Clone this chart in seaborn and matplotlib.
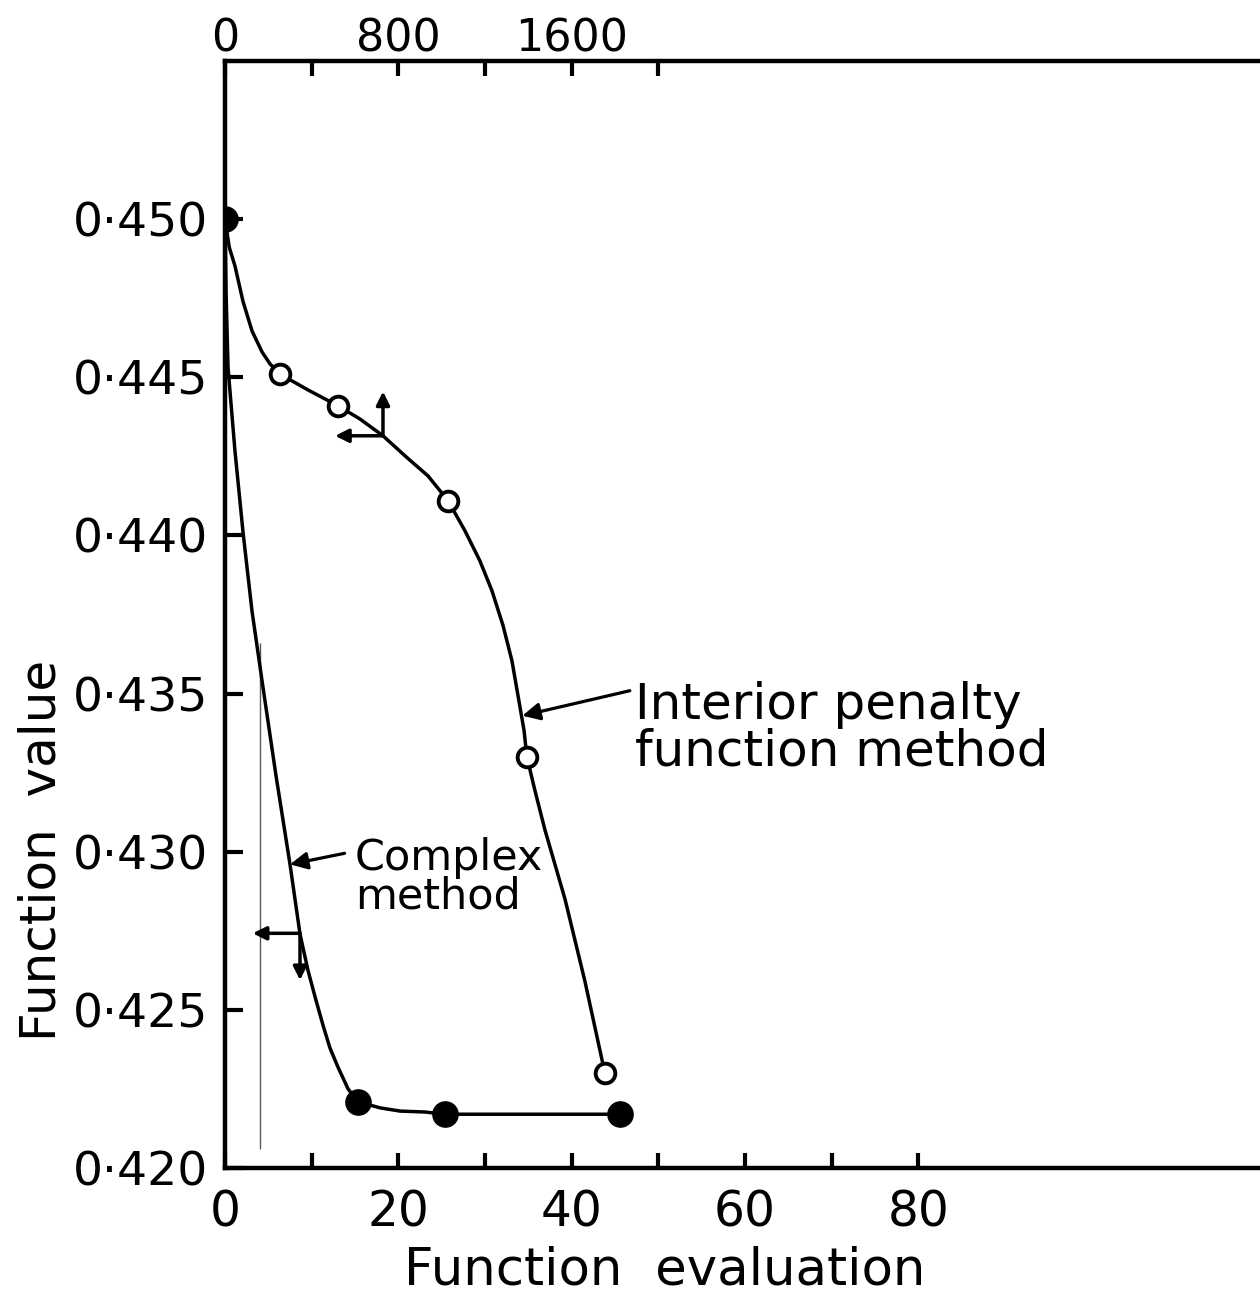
import matplotlib
matplotlib.use("Agg")
import matplotlib.pyplot as plt
import seaborn as sns

# ---------------- data ----------------
# Complex method -> bottom axis (function evaluations)
complex_marker_x = [0, 15.3, 25.4, 45.6]
complex_marker_y = [0.4500, 0.4221, 0.4217, 0.4217]
complex_curve_x = [0, 0.12, 0.35, 1.15, 2.08, 3.11, 4.27, 5.88, 7.5, 8.65, 9.57, 10.4,
                   11.3, 12.1, 13.03, 14.2, 15.3, 17.9, 20.2, 23.07, 25.4, 35.0, 45.6]
complex_curve_y = [0.4500, 0.44773, 0.4453, 0.44267, 0.4401, 0.43762, 0.43541, 0.43241,
                   0.4296, 0.4274, 0.42625, 0.4254, 0.42452, 0.4238, 0.42319, 0.4225,
                   0.4221, 0.4219, 0.4218, 0.42177, 0.4217, 0.4217, 0.4217]

# Interior penalty function method -> top axis (function evaluations)
interior_marker_x = [0, 254, 521, 1029, 1393, 1753]
interior_marker_y = [0.4500, 0.4451, 0.4441, 0.4411, 0.4330, 0.4230]
interior_curve_x = [0, 20, 46, 83, 125, 171, 208, 254, 383, 521, 623, 729, 830, 937,
                    1029, 1107, 1176, 1232, 1283, 1324, 1356, 1380, 1393, 1430, 1476,
                    1569, 1661, 1753]
interior_curve_y = [0.4500, 0.4491, 0.44852, 0.4474, 0.44646, 0.4458, 0.44542, 0.4451,
                    0.4446, 0.4441, 0.44368, 0.44315, 0.44252, 0.44188, 0.4411, 0.44015,
                    0.4392, 0.43825, 0.43715, 0.43604, 0.43478, 0.43383, 0.4330,
                    0.43194, 0.4307, 0.4285, 0.4259, 0.4230]

y_ticks = [0.420, 0.425, 0.430, 0.435, 0.440, 0.445, 0.450]
y_ticklabels = ["0·420", "0·425", "0·430", "0·435", "0·440", "0·445", "0·450"]
x_ticks = [0, 10, 20, 30, 40, 50, 60, 70, 80]
x_ticklabels = ["0", "", "20", "", "40", "", "60", "", "80"]
top_ticks = [0, 400, 800, 1200, 1600, 2000]
top_ticklabels = ["0", "", "800", "", "1600", ""]

# ---------------- style ----------------
sns.set_theme(style="white")
plt.rcParams["font.family"] = ["DejaVu Sans"]
plt.rcParams["text.color"] = "black"
plt.rcParams["axes.labelcolor"] = "black"
plt.rcParams["xtick.color"] = "black"
plt.rcParams["ytick.color"] = "black"

fig = plt.figure(figsize=(12.6, 13.04), dpi=100)
ax = fig.add_axes([225 / 1260, 1 - 1168 / 1304, 1 - 225 / 1260, (1168 - 61) / 1304])
ax2 = ax.twiny()

XMAX = 119.4
ax.set_xlim(0, XMAX)
ax.set_ylim(0.420, 0.455)
ax2.set_xlim(0, XMAX * 40)

lw = 2.5
# complex method
sns.lineplot(x=complex_curve_x, y=complex_curve_y, sort=False, estimator=None,
             color="black", linewidth=lw, ax=ax, zorder=3)
sns.scatterplot(x=complex_marker_x, y=complex_marker_y, s=330, color="black",
                edgecolor="black", linewidth=1, ax=ax, zorder=5)
# interior penalty
sns.lineplot(x=interior_curve_x, y=interior_curve_y, sort=False, estimator=None,
             color="black", linewidth=lw, ax=ax2, zorder=3)
sns.scatterplot(x=interior_marker_x[1:], y=interior_marker_y[1:], s=200, color="white",
                edgecolor="black", linewidth=2.8, ax=ax2, zorder=5)

# faint vertical line of the original drawing
ax.vlines(4.0, 0.4206, 0.4366, color="0.35", linewidth=1.0, zorder=1)

# axes, ticks
for s in ["right", "top"]:
    ax.spines[s].set_visible(False)
for s in ["left", "bottom"]:
    ax.spines[s].set_linewidth(3.2)
    ax.spines[s].set_color("black")
for s in ["left", "right", "bottom"]:
    ax2.spines[s].set_visible(False)
ax2.spines["top"].set_linewidth(3.2)
ax2.spines["top"].set_color("black")

ax.set_xticks(x_ticks)
ax.set_xticklabels(x_ticklabels)
ax.set_yticks(y_ticks)
ax.set_yticklabels(y_ticklabels)
ax2.set_xticks(top_ticks)
ax2.set_xticklabels(top_ticklabels)

ax.tick_params(axis="x", direction="in", length=11, width=3, pad=15, labelsize=35,
               bottom=True, top=False)
ax.tick_params(axis="y", direction="in", length=13, width=3, pad=12, labelsize=34,
               left=True, right=False)
ax2.tick_params(axis="x", direction="in", length=11, width=3, pad=0, labelsize=32,
                top=True, bottom=False)

ax.set_xlabel("Function  evaluation", fontsize=37)
ax.xaxis.set_label_coords((665 - 225) / 1035, -0.070)
ax.set_ylabel("Function  value", fontsize=36)
ax.yaxis.set_label_coords((66 - 225) / 1035, (1168 - 850) / 1107)

# annotations
arrow = dict(arrowstyle="-|>", color="black", lw=2.3, mutation_scale=26,
             shrinkA=0, shrinkB=0)
ax.text(47.3, 0.43540, "Interior penalty\nfunction method", fontsize=36,
        ha="left", va="top", linespacing=0.95)
ax.annotate("", xy=(34.3, 0.4343), xytext=(46.7, 0.43509), arrowprops=arrow)

ax.text(15.0, 0.43045, "Complex\nmethod", fontsize=31, ha="left", va="top",
        linespacing=0.88)
ax.annotate("", xy=(7.5, 0.4296), xytext=(13.8, 0.42995), arrowprops=arrow)

# direction arrows (which axis each curve belongs to)
small = dict(arrowstyle="-|>", color="black", lw=2.5, mutation_scale=20,
             shrinkA=0, shrinkB=0)
ax2.annotate("", xy=(508, 0.44315), xytext=(729, 0.44315), arrowprops=small)
ax2.annotate("", xy=(729, 0.44455), xytext=(729, 0.44315), arrowprops=small)
ax.annotate("", xy=(3.2, 0.42742), xytext=(8.65, 0.42742), arrowprops=small)
ax.annotate("", xy=(8.65, 0.42594), xytext=(8.65, 0.42742), arrowprops=small)

fig.savefig("out.png", dpi=100, facecolor="white")
